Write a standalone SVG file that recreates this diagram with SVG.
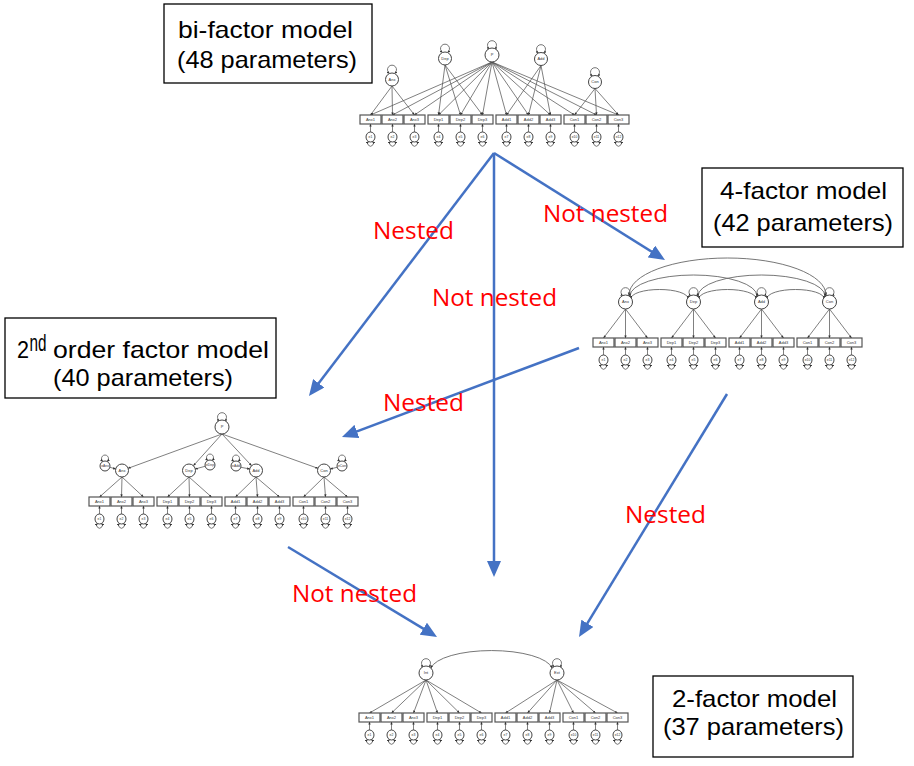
<svg xmlns="http://www.w3.org/2000/svg" width="914" height="766" viewBox="0 0 914 766">
<style>
.bg{fill:#fff}
.box{fill:#fff;stroke:#000;stroke-width:1.3}
.big{font-family:"Liberation Sans",Arial,sans-serif;font-size:24px;fill:#000}
.red{font-family:"Open Sans","Liberation Sans",sans-serif;font-size:24.5px;fill:#f00}
.conn{stroke:#4472C4;stroke-width:2.5;fill:none;marker-end:url(#blue)}
.pl{stroke:#555;stroke-width:0.75;fill:none;marker-end:url(#sm)}
.cov{stroke:#666;stroke-width:0.9;fill:none;marker-start:url(#sm);marker-end:url(#sm)}
.lv{fill:#fff;stroke:#444;stroke-width:1}
.ind{fill:#fff;stroke:#555;stroke-width:1.2}
.t4{font-family:"Liberation Sans",sans-serif;font-size:4px;fill:#333;text-anchor:middle}
.t3{font-family:"Liberation Sans",sans-serif;font-size:3.4px;fill:#333;text-anchor:middle}
</style>
<defs>
<marker id="blue" markerUnits="userSpaceOnUse" markerWidth="16" markerHeight="14" refX="12" refY="7" orient="auto"><path d="M0,0 L16,7 L0,14 z" fill="#4472C4"/></marker>
<marker id="sm" markerUnits="userSpaceOnUse" markerWidth="3" markerHeight="3" refX="2.6" refY="1.2" orient="auto-start-reverse"><path d="M0,0 L2.8,1.2 L0,2.4 z" fill="#333"/></marker>
<path id="lup" d="M-2.5,-6.1 A4.5,4.5 0 1 1 2.5,-6.1" class="cov"/>
<path id="lup2" d="M-2,-4.6 A3.5,3.5 0 1 1 2,-4.6" class="cov"/>
<path id="elp" d="M-2,4.4 A2.8,2.8 0 1 0 2,4.4" class="cov"/>
<g id="err">
<line x1="0" y1="-5" x2="0" y2="-13" class="pl"/>
<ellipse cx="0" cy="0" rx="4.5" ry="5" class="lv"/>
<use href="#elp"/>
</g>
<g id="row">
<rect x="0" y="0" width="21" height="9" class="ind"/><text x="10.5" y="6" class="t4">Anx1</text>
<rect x="22" y="0" width="21" height="9" class="ind"/><text x="32.5" y="6" class="t4">Anx2</text>
<rect x="44" y="0" width="21" height="9" class="ind"/><text x="54.5" y="6" class="t4">Anx3</text>
<rect x="68" y="0" width="21" height="9" class="ind"/><text x="78.5" y="6" class="t4">Dep1</text>
<rect x="90" y="0" width="21" height="9" class="ind"/><text x="100.5" y="6" class="t4">Dep2</text>
<rect x="112" y="0" width="21" height="9" class="ind"/><text x="122.5" y="6" class="t4">Dep3</text>
<rect x="136" y="0" width="21" height="9" class="ind"/><text x="146.5" y="6" class="t4">Add1</text>
<rect x="158" y="0" width="21" height="9" class="ind"/><text x="168.5" y="6" class="t4">Add2</text>
<rect x="180" y="0" width="21" height="9" class="ind"/><text x="190.5" y="6" class="t4">Add3</text>
<rect x="204" y="0" width="21" height="9" class="ind"/><text x="214.5" y="6" class="t4">Con1</text>
<rect x="226" y="0" width="21" height="9" class="ind"/><text x="236.5" y="6" class="t4">Con2</text>
<rect x="248" y="0" width="21" height="9" class="ind"/><text x="258.5" y="6" class="t4">Con3</text>
<use href="#err" x="10.5" y="22"/><text x="10.5" y="23.2" class="t3">e1</text>
<use href="#err" x="32.5" y="22"/><text x="32.5" y="23.2" class="t3">e2</text>
<use href="#err" x="54.5" y="22"/><text x="54.5" y="23.2" class="t3">e3</text>
<use href="#err" x="78.5" y="22"/><text x="78.5" y="23.2" class="t3">e4</text>
<use href="#err" x="100.5" y="22"/><text x="100.5" y="23.2" class="t3">e5</text>
<use href="#err" x="122.5" y="22"/><text x="122.5" y="23.2" class="t3">e6</text>
<use href="#err" x="146.5" y="22"/><text x="146.5" y="23.2" class="t3">e7</text>
<use href="#err" x="168.5" y="22"/><text x="168.5" y="23.2" class="t3">e8</text>
<use href="#err" x="190.5" y="22"/><text x="190.5" y="23.2" class="t3">e9</text>
<use href="#err" x="214.5" y="22"/><text x="214.5" y="23.2" class="t3">e10</text>
<use href="#err" x="236.5" y="22"/><text x="236.5" y="23.2" class="t3">e11</text>
<use href="#err" x="258.5" y="22"/><text x="258.5" y="23.2" class="t3">e12</text>
</g>
</defs>
<rect class="bg" x="0" y="0" width="914" height="766"/>

<!-- connectors -->
<g id="connectors">
<line class="conn" x1="494" y1="153" x2="311.4" y2="392.8"/>
<line class="conn" x1="494" y1="153" x2="661.6" y2="257.9"/>
<line class="conn" x1="494" y1="153" x2="494" y2="573"/>
<line class="conn" x1="579" y1="348" x2="345.7" y2="435.6"/>
<line class="conn" x1="727" y1="394" x2="581.1" y2="633.6"/>
<line class="conn" x1="288" y1="547" x2="433.6" y2="634.9"/>
</g>

<g id="edge-labels">
<text class="red" x="373" y="239" textLength="81" lengthAdjust="spacingAndGlyphs">Nested</text>
<text class="red" x="543" y="222" textLength="125" lengthAdjust="spacingAndGlyphs">Not nested</text>
<text class="red" x="432" y="306" textLength="125" lengthAdjust="spacingAndGlyphs">Not nested</text>
<text class="red" x="383" y="411" textLength="81" lengthAdjust="spacingAndGlyphs">Nested</text>
<text class="red" x="625" y="523" textLength="81" lengthAdjust="spacingAndGlyphs">Nested</text>
<text class="red" x="292" y="602" textLength="125" lengthAdjust="spacingAndGlyphs">Not nested</text>
</g>

<!-- title boxes -->
<g id="label-bifactor">
<rect class="box" x="164" y="4" width="208" height="79"/>
<text class="big" x="178" y="38" textLength="175" lengthAdjust="spacingAndGlyphs">bi-factor model</text>
<text class="big" x="177" y="68" textLength="180" lengthAdjust="spacingAndGlyphs">(48 parameters)</text>
</g>
<g id="label-4factor">
<rect class="box" x="702" y="168" width="201" height="79"/>
<text class="big" x="720" y="199" textLength="167" lengthAdjust="spacingAndGlyphs">4-factor model</text>
<text class="big" x="713" y="231" textLength="180" lengthAdjust="spacingAndGlyphs">(42 parameters)</text>
</g>
<g id="label-2ndorder">
<rect class="box" x="5" y="318" width="271" height="80"/>
<text class="big" x="17" y="358" textLength="12" lengthAdjust="spacingAndGlyphs">2</text>
<text class="big" x="29.5" y="351" font-size="14" textLength="17" lengthAdjust="spacingAndGlyphs">nd</text>
<text class="big" x="53" y="358" textLength="216" lengthAdjust="spacingAndGlyphs">order factor model</text>
<text class="big" x="53" y="386" textLength="180" lengthAdjust="spacingAndGlyphs">(40 parameters)</text>
</g>
<g id="label-2factor">
<rect class="box" x="653" y="676" width="200" height="81"/>
<text class="big" x="672" y="707" textLength="165" lengthAdjust="spacingAndGlyphs">2-factor model</text>
<text class="big" x="663" y="735" textLength="181" lengthAdjust="spacingAndGlyphs">(37 parameters)</text>
</g>

<!-- bi-factor diagram -->
<g id="diagram-bifactor">
<g class="pl">
<line x1="392" y1="86" x2="370.5" y2="115"/><line x1="392" y1="86" x2="392.5" y2="115"/><line x1="392" y1="86" x2="414.5" y2="115"/>
<line x1="445" y1="65" x2="438.5" y2="115"/><line x1="445" y1="65" x2="460.5" y2="115"/><line x1="445" y1="65" x2="482.5" y2="115"/>
<line x1="541" y1="65.5" x2="506.5" y2="115"/><line x1="541" y1="65.5" x2="528.5" y2="115"/><line x1="541" y1="65.5" x2="550.5" y2="115"/>
<line x1="595" y1="88.5" x2="574.5" y2="115"/><line x1="595" y1="88.5" x2="596.5" y2="115"/><line x1="595" y1="88.5" x2="618.5" y2="115"/>
<line x1="492" y1="62" x2="370.5" y2="115"/><line x1="492" y1="62" x2="392.5" y2="115"/><line x1="492" y1="62" x2="414.5" y2="115"/>
<line x1="492" y1="62" x2="438.5" y2="115"/><line x1="492" y1="62" x2="460.5" y2="115"/><line x1="492" y1="62" x2="482.5" y2="115"/>
<line x1="492" y1="62" x2="506.5" y2="115"/><line x1="492" y1="62" x2="528.5" y2="115"/><line x1="492" y1="62" x2="550.5" y2="115"/>
<line x1="492" y1="62" x2="574.5" y2="115"/><line x1="492" y1="62" x2="596.5" y2="115"/><line x1="492" y1="62" x2="618.5" y2="115"/>
</g>
<use href="#row" x="360" y="115"/>
<use href="#lup" x="392" y="79.5"/><circle cx="392" cy="79.5" r="6.5" class="lv"/><text x="392" y="80.9" class="t4">Anx</text>
<use href="#lup" x="445" y="58.5"/><circle cx="445" cy="58.5" r="6.5" class="lv"/><text x="445" y="59.9" class="t4">Dep</text>
<use href="#lup" x="492" y="55"/><circle cx="492" cy="55" r="7" class="lv"/><text x="492" y="56.4" class="t4">P</text>
<use href="#lup" x="541" y="59"/><circle cx="541" cy="59" r="6.5" class="lv"/><text x="541" y="60.4" class="t4">Add</text>
<use href="#lup" x="595" y="82"/><circle cx="595" cy="82" r="6.5" class="lv"/><text x="595" y="83.4" class="t4">Con</text>
</g>

<!-- 4-factor diagram -->
<g id="diagram-4factor">
<g class="pl">
<line x1="625.5" y1="309" x2="603.5" y2="338"/><line x1="625.5" y1="309" x2="625.5" y2="338"/><line x1="625.5" y1="309" x2="647.5" y2="338"/>
<line x1="693.5" y1="309" x2="671.5" y2="338"/><line x1="693.5" y1="309" x2="693.5" y2="338"/><line x1="693.5" y1="309" x2="715.5" y2="338"/>
<line x1="761.5" y1="309" x2="739.5" y2="338"/><line x1="761.5" y1="309" x2="761.5" y2="338"/><line x1="761.5" y1="309" x2="783.5" y2="338"/>
<line x1="829.5" y1="309" x2="807.5" y2="338"/><line x1="829.5" y1="309" x2="829.5" y2="338"/><line x1="829.5" y1="309" x2="851.5" y2="338"/>
</g>
<path class="cov" d="M631,298.5 A28.5,9 0 0 1 688,298.5"/>
<path class="cov" d="M699,298.5 A28.5,9 0 0 1 756,298.5"/>
<path class="cov" d="M767,298.5 A28.5,9 0 0 1 824,298.5"/>
<path class="cov" d="M630,296 A63.5,21 0 0 1 757,296"/>
<path class="cov" d="M698,296 A63.5,21 0 0 1 825,296"/>
<path class="cov" d="M629,295 A98.5,37 0 0 1 826,295"/>
<use href="#row" x="593" y="338"/>
<use href="#lup" x="625.5" y="302"/><circle cx="625.5" cy="302" r="7" class="lv"/><text x="625.5" y="303.4" class="t4">Anx</text>
<use href="#lup" x="693.5" y="302"/><circle cx="693.5" cy="302" r="7" class="lv"/><text x="693.5" y="303.4" class="t4">Dep</text>
<use href="#lup" x="761.5" y="302"/><circle cx="761.5" cy="302" r="7" class="lv"/><text x="761.5" y="303.4" class="t4">Add</text>
<use href="#lup" x="829.5" y="302"/><circle cx="829.5" cy="302" r="7" class="lv"/><text x="829.5" y="303.4" class="t4">Con</text>
</g>

<!-- 2nd order diagram -->
<g id="diagram-2ndorder">
<g class="pl">
<line x1="222" y1="434" x2="128.1" y2="468.3"/>
<line x1="222" y1="434" x2="193.4" y2="465.7"/>
<line x1="222" y1="434" x2="251.6" y2="465.7"/>
<line x1="222" y1="434" x2="317.9" y2="468.3"/>
<line x1="110" y1="467.3" x2="115.7" y2="469"/>
<line x1="205" y1="466.3" x2="195.2" y2="469"/>
<line x1="241" y1="467.3" x2="249.8" y2="469"/>
<line x1="337" y1="467.3" x2="330.2" y2="469"/>
<line x1="122" y1="477" x2="99.5" y2="497"/><line x1="122" y1="477" x2="121.5" y2="497"/><line x1="122" y1="477" x2="143.5" y2="497"/>
<line x1="189" y1="477" x2="167.5" y2="497"/><line x1="189" y1="477" x2="189.5" y2="497"/><line x1="189" y1="477" x2="211.5" y2="497"/>
<line x1="256" y1="477" x2="235.5" y2="497"/><line x1="256" y1="477" x2="257.5" y2="497"/><line x1="256" y1="477" x2="279.5" y2="497"/>
<line x1="324" y1="477" x2="303.5" y2="497"/><line x1="324" y1="477" x2="325.5" y2="497"/><line x1="324" y1="477" x2="347.5" y2="497"/>
</g>
<use href="#row" x="89" y="497"/>
<use href="#lup" x="222" y="427"/><circle cx="222" cy="427" r="7" class="lv"/><text x="222" y="428.4" class="t4">P</text>
<circle cx="122" cy="470.5" r="6.5" class="lv"/><text x="122" y="471.9" class="t4">Anx</text>
<circle cx="189" cy="470.5" r="6.5" class="lv"/><text x="189" y="471.9" class="t4">Dep</text>
<circle cx="256" cy="470.5" r="6.5" class="lv"/><text x="256" y="471.9" class="t4">Add</text>
<circle cx="324" cy="470.5" r="6.5" class="lv"/><text x="324" y="471.9" class="t4">Con</text>
<use href="#lup2" x="105" y="466"/><circle cx="105" cy="466" r="5" class="lv"/><text x="105" y="467.2" class="t3">eAnx</text>
<use href="#lup2" x="210" y="465"/><circle cx="210" cy="465" r="5" class="lv"/><text x="210" y="466.2" class="t3">eDep</text>
<use href="#lup2" x="236" y="466"/><circle cx="236" cy="466" r="5" class="lv"/><text x="236" y="467.2" class="t3">eAdd</text>
<use href="#lup2" x="342" y="466"/><circle cx="342" cy="466" r="5" class="lv"/><text x="342" y="467.2" class="t3">eCon</text>
</g>

<!-- 2-factor diagram -->
<g id="diagram-2factor">
<g class="pl">
<line x1="426" y1="680" x2="369.5" y2="713"/><line x1="426" y1="680" x2="391.5" y2="713"/><line x1="426" y1="680" x2="413.5" y2="713"/>
<line x1="426" y1="680" x2="437.5" y2="713"/><line x1="426" y1="680" x2="459.5" y2="713"/><line x1="426" y1="680" x2="481.5" y2="713"/>
<line x1="557" y1="680" x2="505.5" y2="713"/><line x1="557" y1="680" x2="527.5" y2="713"/><line x1="557" y1="680" x2="549.5" y2="713"/>
<line x1="557" y1="680" x2="573.5" y2="713"/><line x1="557" y1="680" x2="595.5" y2="713"/><line x1="557" y1="680" x2="617.5" y2="713"/>
</g>
<path class="cov" d="M431,668 A61,20 0 0 1 552,668"/>
<use href="#row" x="359" y="713"/>
<use href="#lup" x="426" y="673"/><circle cx="426" cy="673" r="7" class="lv"/><text x="426" y="674.4" class="t4">Int</text>
<use href="#lup" x="557" y="673"/><circle cx="557" cy="673" r="7" class="lv"/><text x="557" y="674.4" class="t4">Ext</text>
</g>
</svg>
